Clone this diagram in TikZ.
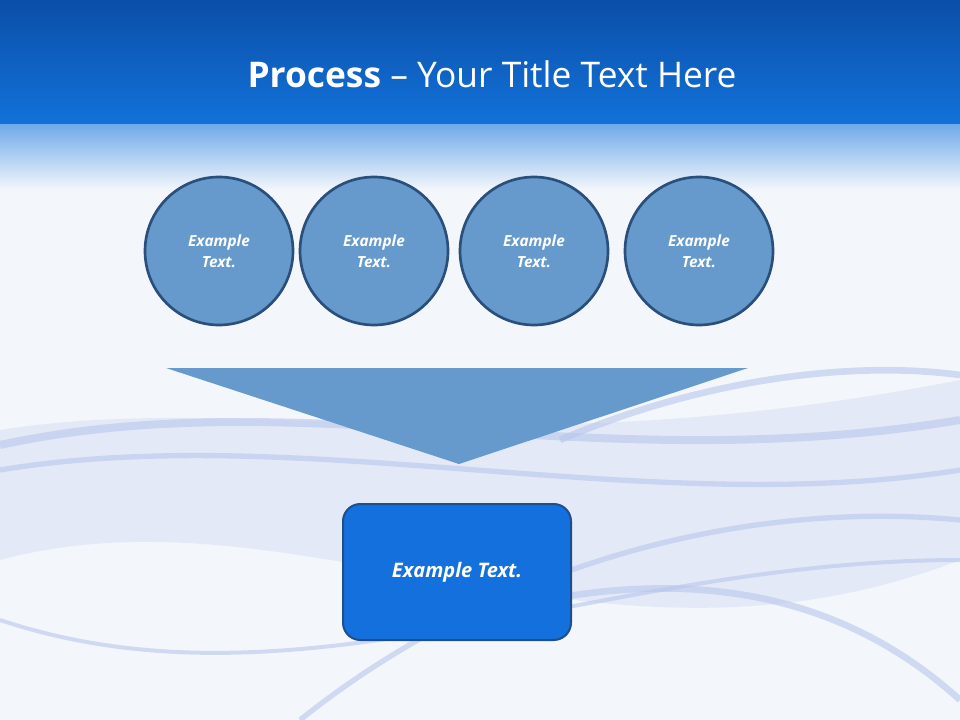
\documentclass[tikz,border=0pt]{standalone}
\usepackage{fontspec}
\setmainfont{Open Sans}
\usetikzlibrary{shapes.geometric}
\definecolor{bg}{HTML}{F3F7FC}
\definecolor{circfill}{HTML}{6699CC}
\definecolor{circline}{HTML}{2A4F7A}
\definecolor{boxfill}{HTML}{1370DC}
\definecolor{boxline}{HTML}{1F4E8C}
\definecolor{topdark}{HTML}{0B4FA8}
\definecolor{topmid}{HTML}{1272DA}
\definecolor{wave}{HTML}{B9C6EC}
\tikzset{
  circ/.style={circle,minimum size=148*0.75pt,fill=circfill,draw=circline,line width=2pt,text=white,font=\bfseries\itshape\fontsize{11.5}{16}\selectfont,align=center,inner sep=0pt},
  boxn/.style={rounded corners=13pt,minimum width=228*0.75pt,minimum height=136*0.75pt,fill=boxfill,draw=boxline,line width=1.5pt,text=white,font=\bfseries\itshape\fontsize{15}{18}\selectfont},
  wavel/.style={wave,line width=#1,opacity=0.6}
}
\begin{document}
\begin{tikzpicture}[x=0.75pt,y=-0.75pt]
\useasboundingbox (0,0) rectangle (960,720);
\fill[bg] (0,0) rectangle (960,720);
% waves
\fill[wave!60,opacity=0.5] (0,430) .. controls (250,390) and (500,470) .. (960,380) -- (960,560) .. controls (600,700) and (300,480) .. (0,560) -- cycle;
\draw[wavel=6pt] (0,445) .. controls (300,380) and (600,480) .. (960,420);
\draw[wavel=4pt] (0,470) .. controls (300,420) and (650,520) .. (960,470);
\draw[wavel=5pt] (560,440) .. controls (700,380) and (850,360) .. (960,375);
\draw[wavel=4pt] (300,720) .. controls (500,560) and (750,500) .. (960,520);
\draw[wavel=3pt] (0,620) .. controls (300,720) and (600,560) .. (960,560);
\draw[wavel=5pt] (500,610) .. controls (700,560) and (850,600) .. (960,700);
% header
\shade[top color=topdark,bottom color=topmid] (0,0) rectangle (960,125);
\shade[top color=topmid!60!white,bottom color=bg] (0,125) rectangle (960,190);
\node[text=white,font=\fontsize{26.5}{32}\selectfont] (title) at (492,74) {\textbf{Process} – Your Title Text Here};
% circles
\node[circ] (c1) at (219,251) {Example\\Text.};
\node[circ] (c2) at (374,251) {Example\\Text.};
\node[circ] (c3) at (534,251) {Example\\Text.};
\node[circ] (c4) at (699,251) {Example\\Text.};
% triangle
\fill[circfill] (166,368) -- (748,368) -- (459,464) -- cycle;
% box
\node[boxn] (b) at (457,572) {Example Text.};
\end{tikzpicture}
\end{document}
